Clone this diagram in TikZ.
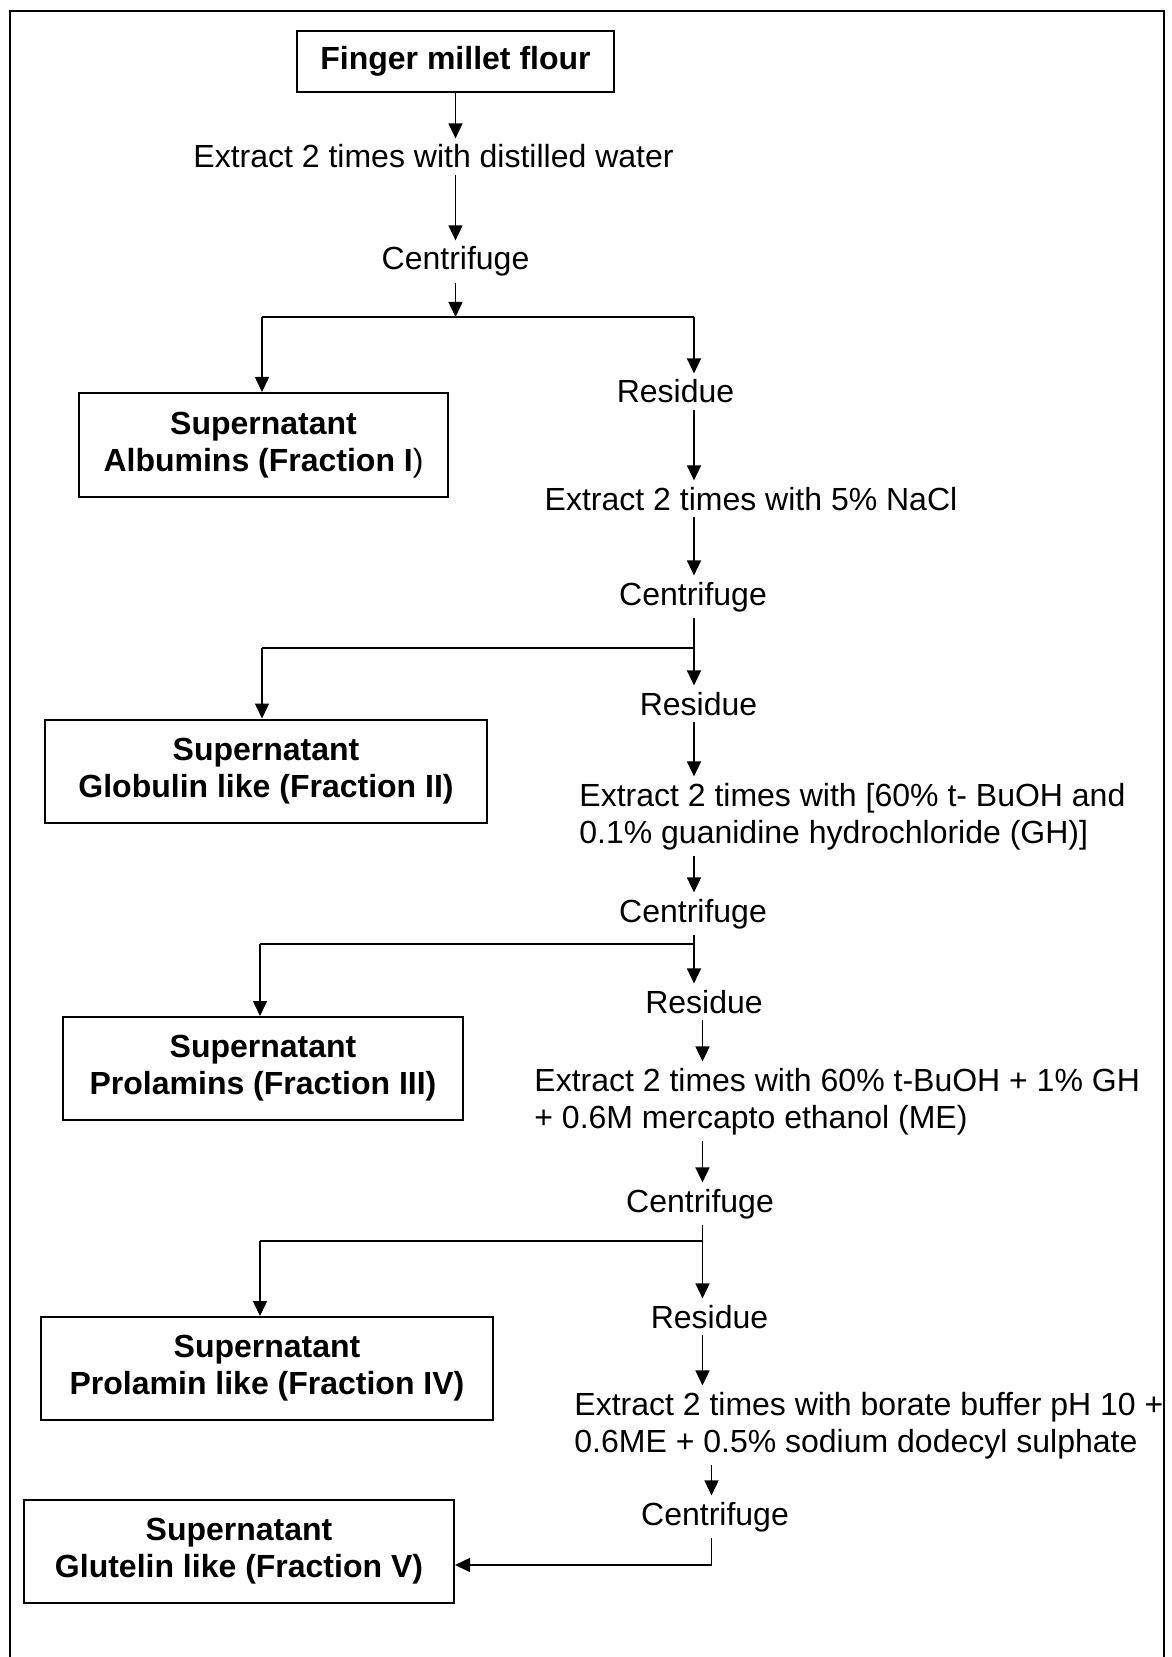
\documentclass[tikz,border=0pt]{standalone}
\usepackage{fontspec}
\setmainfont{Liberation Sans}
\usetikzlibrary{arrows.meta}

\begin{document}
\begin{tikzpicture}[x=0.5pt, y=-0.5pt,
		font=\fontsize{16}{18.5}\selectfont,
		flow/.style={line width=0.8pt, -{Triangle[length=7.5pt, width=7pt]}},
		link/.style={line width=0.9pt},
		txt/.style={inner sep=3pt, anchor=base},
		steptxt/.style={inner sep=3pt, anchor=base west, align=left},
		fraction/.style={draw, line width=1pt, align=center, font=\fontsize{16}{18.5}\selectfont\bfseries, minimum height=51.5pt}]
		%%%%% START %%%%%
		
		\useasboundingbox (0, 0) rectangle (1171, 1657);
		\draw[line width=0.9pt] (10, 1657) -- (10, 11) -- (1164, 11) -- (1164, 1657);
		
		\node[fraction, minimum width=158.5pt, minimum height=30.5pt] (flour) at (455.5, 61.5) {Finger millet flour};
		\node[txt] (water) at (433.5, 168) {Extract 2 times with distilled water};
		\node[txt] (cf1) at (455.5, 270) {Centrifuge};
		
		\node[fraction, minimum width=184.5pt, minimum height=52pt] (sup1) at (263.5, 445) {Supernatant\\Albumins (Fraction I{\mdseries )}};
		\node[txt] (res1) at (675.5, 403) {Residue};
		\node[txt] (nacl) at (751, 510) {Extract 2 times with 5\% NaCl};
		\node[txt] (cf2) at (693, 605) {Centrifuge};
		
		\node[fraction, minimum width=221pt] (sup2) at (266, 771) {Supernatant\\Globulin like (Fraction II)};
		\node[txt] (res2) at (698.5, 715) {Residue};
		% base west of a two-line node sits on its last line
		\node[steptxt] (bu1) at (573, 843) {Extract 2 times with [60\% t- BuOH and\\0.1\% guanidine hydrochloride (GH)]};
		\node[txt] (cf3) at (693, 922) {Centrifuge};
		
		\node[fraction, minimum width=200pt] (sup3) at (263, 1068.5) {Supernatant\\Prolamins (Fraction III)};
		\node[txt] (res3) at (704, 1013) {Residue};
		\node[steptxt] (bu2) at (528, 1128) {Extract 2 times with 60\% t-BuOH + 1\% GH\\+ 0.6M mercapto ethanol (ME)};
		\node[txt] (cf4) at (700, 1212) {Centrifuge};
		
		\node[fraction, minimum width=226pt] (sup4) at (267, 1368.5) {Supernatant\\Prolamin like (Fraction IV)};
		\node[txt] (res4) at (709.5, 1328) {Residue};
		\node[steptxt] (borate) at (568, 1452) {Extract 2 times with borate buffer pH 10 +\\0.6ME + 0.5\% sodium dodecyl sulphate};
		\node[txt] (cf5) at (715, 1525) {Centrifuge};
		
		\node[fraction, minimum width=215pt] (sup5) at (239, 1551.5) {Supernatant\\Glutelin like (Fraction V)};
		
		\coordinate (j1) at (694, 317);
		\coordinate (j1l) at (262, 317);
		\coordinate (j2) at (694, 648);
		\coordinate (j2l) at (262, 648);
		\coordinate (j3) at (694, 944);
		\coordinate (j3l) at (260, 944);
		\coordinate (j4) at (702.5, 1241);
		\coordinate (j4l) at (260, 1241);
		\coordinate (j5) at (711.5, 1565);
		
		\draw[flow] (flour.south) -- (flour.south |- water.north);
		\draw[flow] (water.south -| flour.south) -- (cf1.north -| flour.south);
		\draw[flow] (cf1.south -| flour.south) -- (j1 -| flour.south);
		\draw[link] (j1l) -- (j1);
		\draw[flow] (j1l) -- (j1l |- sup1.north);
		\draw[flow] (j1) -- (j1 |- res1.north);
		
		\draw[flow] (res1.south -| j1) -- (nacl.north -| j1);
		\draw[flow] (nacl.south -| j2) -- (cf2.north -| j2);
		\draw[flow] (cf2.south -| j2) -- (j2 |- res2.north);
		\draw[link] (j2) -- (j2l);
		\draw[flow] (j2l) -- (j2l |- sup2.north);
		
		\draw[flow] (res2.south -| j2) -- (bu1.north -| j2);
		\draw[flow] (bu1.south -| j3) -- (cf3.north -| j3);
		\draw[flow] (cf3.south -| j3) -- (j3 |- res3.north);
		\draw[link] (j3) -- (j3l);
		\draw[flow] (j3l) -- (j3l |- sup3.north);
		
		\draw[flow] (res3.south -| j4) -- (bu2.north -| j4);
		\draw[flow] (bu2.south -| j4) -- (cf4.north -| j4);
		\draw[flow] (cf4.south -| j4) -- (j4 |- res4.north);
		\draw[link] (j4) -- (j4l);
		\draw[flow] (j4l) -- (j4l |- sup4.north);
		
		\draw[flow] (res4.south -| j4) -- (borate.north -| j4);
		\draw[flow] (borate.south -| j5) -- (cf5.north -| j5);
		\draw[flow] (cf5.south -| j5) -- (j5) -- (j5 -| sup5.east);
		
		%%%%% END %%%%%
	\end{tikzpicture}
\end{document}
